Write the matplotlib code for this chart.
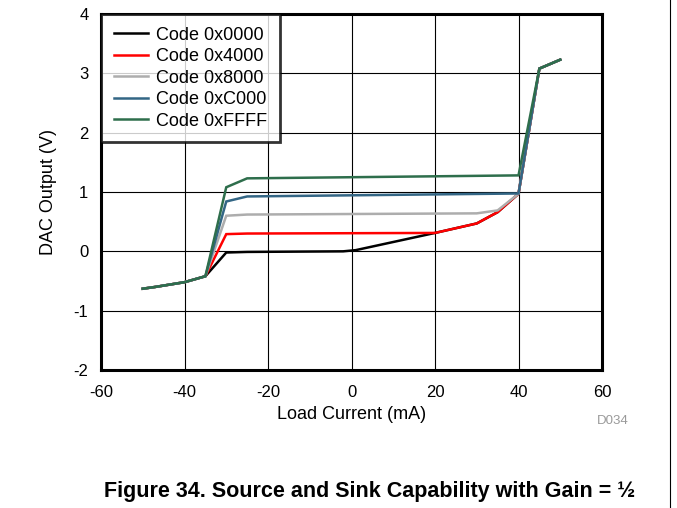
import matplotlib
matplotlib.use("Agg")
import matplotlib.pyplot as plt
from matplotlib.lines import Line2D

plt.rcParams['font.family'] = ['Liberation Sans', 'DejaVu Sans']

# Data
x_black = [-50, -47, -40, -35, -30, -25, -2, 1, 20, 30, 35, 40, 45, 50]
y_black = [-0.63, -0.60, -0.52, -0.42, -0.02, -0.01, 0.0, 0.02, 0.31, 0.47, 0.66, 0.97, 3.08, 3.23]

x_red = [-50, -47, -40, -35, -30, -25, 20, 30, 35, 40, 45, 50]
y_red = [-0.63, -0.60, -0.52, -0.42, 0.29, 0.30, 0.31, 0.47, 0.66, 0.97, 3.08, 3.23]

x_gray = [-50, -47, -40, -35, -30, -25, 30, 35, 40, 45, 50]
y_gray = [-0.63, -0.60, -0.52, -0.42, 0.60, 0.62, 0.64, 0.69, 0.97, 3.08, 3.23]

x_blue = [-50, -47, -40, -35, -30, -25, 40, 45, 50]
y_blue = [-0.63, -0.60, -0.52, -0.42, 0.84, 0.925, 0.975, 3.08, 3.23]

x_green = [-50, -47, -40, -35, -30, -25, 40, 45, 50]
y_green = [-0.63, -0.60, -0.52, -0.42, 1.08, 1.23, 1.28, 3.08, 3.23]

labels = ['Code 0x0000', 'Code 0x4000', 'Code 0x8000', 'Code 0xC000', 'Code 0xFFFF']
colors = ['#000000', '#FF0000', '#ADADAD', '#336685', '#2E6E4C']

x_ticks = [-60, -40, -20, 0, 20, 40, 60]
y_ticks = [-2, -1, 0, 1, 2, 3, 4]

fig = plt.figure(figsize=(6.77, 5.08), dpi=100)
ax = fig.add_axes([101/677, 1 - 370/508, (602-101)/677, (370-14)/508])

series = [(x_black, y_black), (x_red, y_red), (x_gray, y_gray), (x_blue, y_blue), (x_green, y_green)]
for (xs, ys), c, lab in zip(series, colors, labels):
    ax.plot(xs, ys, color=c, lw=1.8, label=lab, solid_joinstyle='miter')

ax.set_xlim(-60, 60)
ax.set_ylim(-2, 4)
ax.set_xticks(x_ticks)
ax.set_yticks(y_ticks)
ax.set_xticklabels([str(v) for v in x_ticks])
ax.set_yticklabels([str(v) for v in y_ticks])
ax.tick_params(length=0, labelsize=12)
ax.tick_params(axis='x', pad=11)
ax.tick_params(axis='y', pad=9)
ax.grid(True, color='black', lw=0.8)
ax.set_axisbelow(True)
for s in ax.spines.values():
    s.set_linewidth(2.2)
    s.set_color('black')

ax.set_xlabel('Load Current (mA)', fontsize=13, labelpad=4)
ax.set_ylabel('DAC Output (V)', fontsize=13, labelpad=12)

leg = ax.legend(loc='upper left', borderaxespad=0, fontsize=13, frameon=True,
                fancybox=False, handlelength=1.9, handletextpad=0.45,
                labelspacing=0.25, borderpad=0.7)
leg.get_frame().set_edgecolor('black')
leg.get_frame().set_linewidth(2.0)

fig.text(613/677, 1 - 421/508, 'D034', fontsize=9.5, color='#9A9A9A', ha='center', va='center')
fig.text(370/677, 1 - 492/508, 'Figure 34. Source and Sink Capability with Gain = \u00bd',
         fontsize=15.5, fontweight='bold', ha='center', va='center')

fig.add_artist(Line2D([670/677, 670/677], [0, 1], transform=fig.transFigure, color='black', lw=0.8))

fig.savefig('out.png', dpi=100)
